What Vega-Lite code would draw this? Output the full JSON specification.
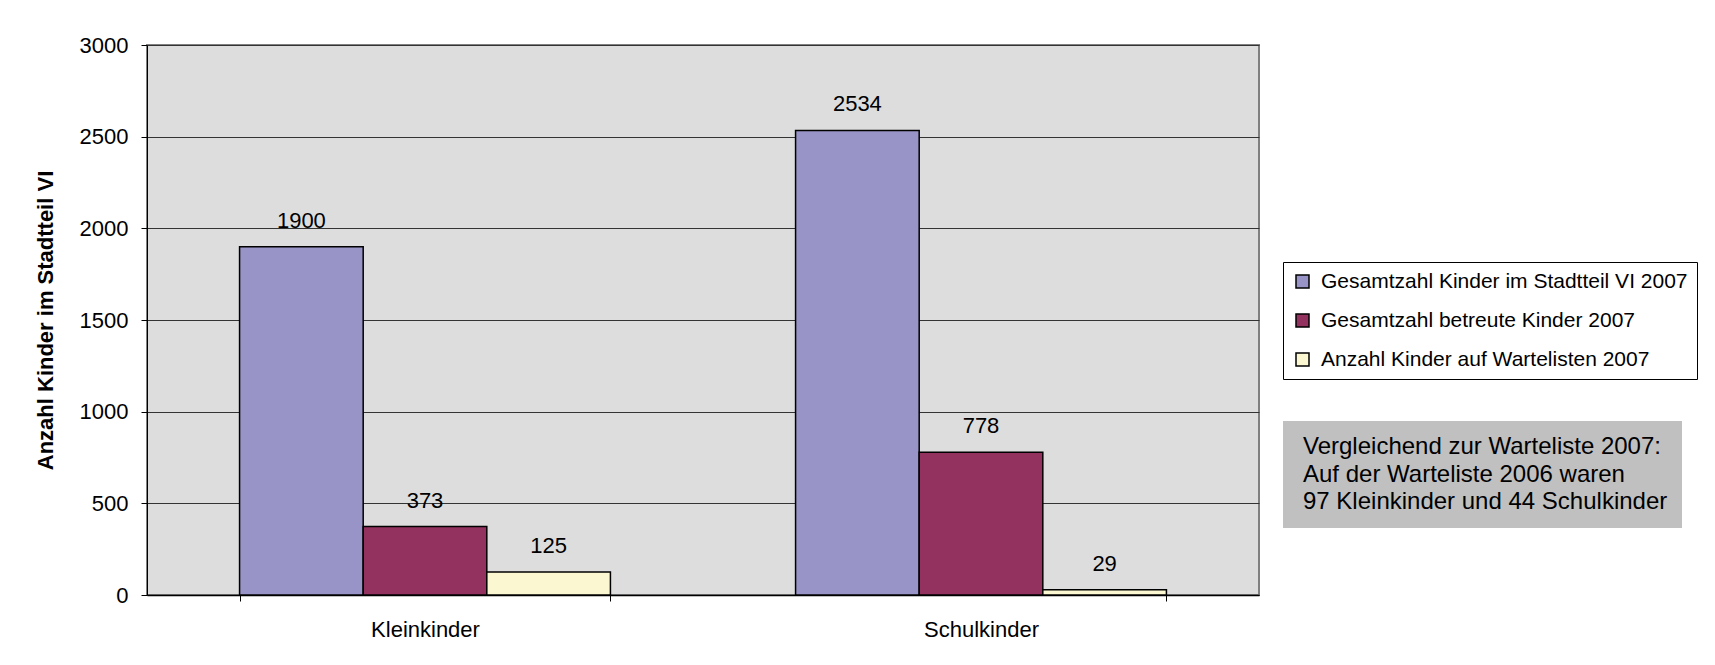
{
  "$schema": "https://vega.github.io/schema/vega-lite/v6.json",
  "width": 1112,
  "height": 550,
  "autosize": {"type": "none"},
  "padding": {"left": 147, "top": 45, "right": 456, "bottom": 70},
  "background": "white",
  "view": {"fill": "#dddddd", "stroke": "#808080", "strokeWidth": 2},
  "config": {
    "font": "Liberation Sans",
    "view": {"fill": "#dddddd", "stroke": "#808080", "strokeWidth": 2}
  },
  "data": {
    "values": [
      {"category": "Kleinkinder", "series": "Gesamtzahl Kinder im Stadtteil VI 2007", "value": 1900},
      {"category": "Kleinkinder", "series": "Gesamtzahl betreute Kinder 2007", "value": 373},
      {"category": "Kleinkinder", "series": "Anzahl Kinder auf Wartelisten 2007", "value": 125},
      {"category": "Schulkinder", "series": "Gesamtzahl Kinder im Stadtteil VI 2007", "value": 2534},
      {"category": "Schulkinder", "series": "Gesamtzahl betreute Kinder 2007", "value": 778},
      {"category": "Schulkinder", "series": "Anzahl Kinder auf Wartelisten 2007", "value": 29}
    ]
  },
  "layer": [
    {
      "mark": {"type": "bar", "stroke": "#000000", "strokeWidth": 1.5},
      "encoding": {
        "x": {
          "field": "category", "type": "nominal",
          "sort": ["Kleinkinder", "Schulkinder"],
          "scale": {"paddingInner": 0.333, "paddingOuter": 0.1665},
          "axis": {
            "title": null, "labelAngle": 0, "labelFontSize": 22, "labelColor": "#000000",
            "labelPadding": 18, "tickBand": "extent", "tickSize": 6, "tickColor": "#000000",
            "domainColor": "#000000", "domainWidth": 1.5, "grid": false
          }
        },
        "xOffset": {
          "field": "series", "type": "nominal",
          "scale": {
            "domain": ["Gesamtzahl Kinder im Stadtteil VI 2007", "Gesamtzahl betreute Kinder 2007", "Anzahl Kinder auf Wartelisten 2007"],
            "paddingInner": 0, "paddingOuter": 0
          }
        },
        "y": {
          "field": "value", "type": "quantitative",
          "scale": {"domain": [0, 3000]},
          "axis": {
            "title": "Anzahl Kinder im Stadtteil VI", "titleFontSize": 22, "titleFontWeight": "bold",
            "titleColor": "#000000", "titlePadding": 22,
            "values": [0, 500, 1000, 1500, 2000, 2500, 3000], "format": "d",
            "labelFontSize": 22, "labelColor": "#000000", "labelPadding": 13,
            "tickSize": 6, "tickColor": "#000000", "domainColor": "#000000",
            "grid": true, "gridColor": "#333333", "gridWidth": 1
          }
        },
        "color": {
          "field": "series", "type": "nominal",
          "scale": {
            "domain": ["Gesamtzahl Kinder im Stadtteil VI 2007", "Gesamtzahl betreute Kinder 2007", "Anzahl Kinder auf Wartelisten 2007"],
            "range": ["#9894c8", "#93325f", "#fbf8d1"]
          },
          "legend": {
            "title": null, "orient": "none", "legendX": 1136, "legendY": 217,
            "padding": 9, "rowPadding": 17, "labelFontSize": 21, "labelColor": "#000000",
            "labelLimit": 600, "labelOffset": 8,
            "symbolType": "square", "symbolSize": 169, "symbolStrokeColor": "#000000",
            "symbolStrokeWidth": 1.5, "symbolOpacity": 1,
            "strokeColor": "#000000", "fillColor": "#ffffff"
          }
        }
      }
    },
    {
      "mark": {"type": "text", "dy": -19, "fontSize": 22, "baseline": "alphabetic", "color": "#000000"},
      "encoding": {
        "x": {"field": "category", "type": "nominal", "sort": ["Kleinkinder", "Schulkinder"]},
        "xOffset": {"field": "series", "type": "nominal"},
        "y": {"field": "value", "type": "quantitative"},
        "text": {"field": "value", "type": "quantitative"}
      }
    },
    {
      "data": {
        "values": [
          {"line": "Vergleichend zur Warteliste 2007:"},
          {"line": "Auf der Warteliste 2006 waren"},
          {"line": "97 Kleinkinder und 44 Schulkinder"}
        ]
      },
      "mark": {"type": "point", "opacity": 0},
      "encoding": {
        "shape": {
          "field": "line", "type": "nominal",
          "scale": {"domain": ["Vergleichend zur Warteliste 2007:", "Auf der Warteliste 2006 waren", "97 Kleinkinder und 44 Schulkinder"]},
          "legend": {
            "title": null, "orient": "none", "legendX": 1136, "legendY": 376,
            "padding": 14, "rowPadding": 3.5, "labelFontSize": 24, "labelColor": "#000000",
            "labelLimit": 600, "labelOffset": -18,
            "symbolSize": 0, "symbolOpacity": 0, "symbolStrokeWidth": 0,
            "fillColor": "#c0c0c0"
          }
        }
      }
    }
  ]
}
